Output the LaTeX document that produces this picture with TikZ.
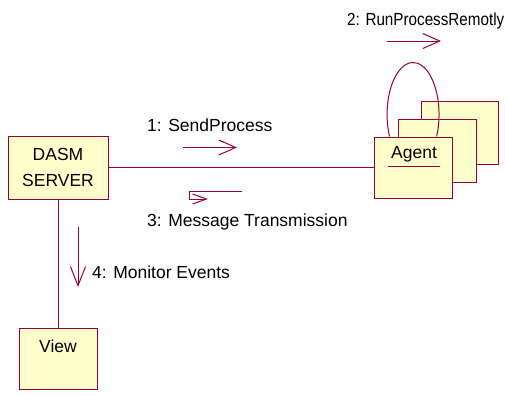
\documentclass[tikz,border=0pt]{standalone}
\usepackage{fontspec}
\setmainfont{Liberation Sans}
\usepackage{graphicx}
\usetikzlibrary{arrows.meta}
\definecolor{rose}{RGB}{153,0,51}
\definecolor{note}{RGB}{255,255,204}

\begin{document}
\begin{tikzpicture}[x=1pt,y=1pt,
  box/.style={draw=rose,fill=note,line width=1pt,minimum width=78pt,minimum height=62pt},
  link/.style={draw=rose,line width=1pt},
  msg/.style={link,-{Straight Barb[length=17pt,width=15pt]}},
  lbl/.style={anchor=base west,font=\fontsize{17.5}{21}\selectfont}]
\tikzstyle{every node}+=[inner sep=0pt]
\useasboundingbox (0,0) rectangle (505,-394);
% objects
\node [box,minimum width=100pt,minimum height=63pt,align=center,
  font=\fontsize{17.5}{26}\selectfont] (server) at (58,-167.5) {DASM\\SERVER};
\node [box,minimum height=61pt] (view) at (58,-358.5) {};
\node [lbl,anchor=base] (viewtxt) at (58,-352) {View};
\node [box,minimum width=77pt,minimum height=63pt] (agentc) at (459.5,-132.5) {};
\node [box,minimum height=63pt] (agentb) at (437,-150.5) {};
\node [box,minimum height=61pt] (agent) at (413,-167.5) {};
\node [lbl,anchor=base] (agenttxt) at (414,-158) {Agent};
\draw [link] ([xshift=-3pt,yshift=-8pt]agenttxt.base west) -- ([xshift=3pt,yshift=-8pt]agenttxt.base east);
% links
\draw [link] (server.east) -- (agent.west);
\draw [link] (server.south) -- (view.north);
\draw [link] ([xshift=-23.5pt]agent.north) arc [start angle=205,end angle=-25,x radius=26pt,y radius=52pt];
% messages
\coordinate (m1a) at (183,-147.5);
\coordinate (m1b) at (237,-147.5);
\draw [msg] (m1a) -- (m1b);
\node [lbl] (l1) at (147,-131) {1: SendProcess};
\coordinate (m2a) at (387,-41);
\coordinate (m2b) at (441,-41);
\draw [msg] (m2a) -- (m2b);
\node [lbl] (l2) at (347,-25) {\scalebox{0.87}[1]{2: RunProcessRemotly}};
\coordinate (m3a) at (242,-191);
\coordinate (m3b) at (189,-191);
\coordinate (m3c) at (189,-199);
\coordinate (m3d) at (208,-199);
\draw [link,-{Straight Barb[length=14pt,width=10pt]}] (m3a) -- (m3b) -- (m3c) -- (m3d);
\node [lbl] (l3) at (147,-226) {3: Message Transmission};
\coordinate (m4a) at (78,-227);
\coordinate (m4b) at (78,-287);
\draw [link,-{Straight Barb[length=19pt,width=15pt]}] (m4a) -- (m4b);
\node [lbl] (l4) at (92,-278) {4: Monitor Events};
\end{tikzpicture}
\end{document}
